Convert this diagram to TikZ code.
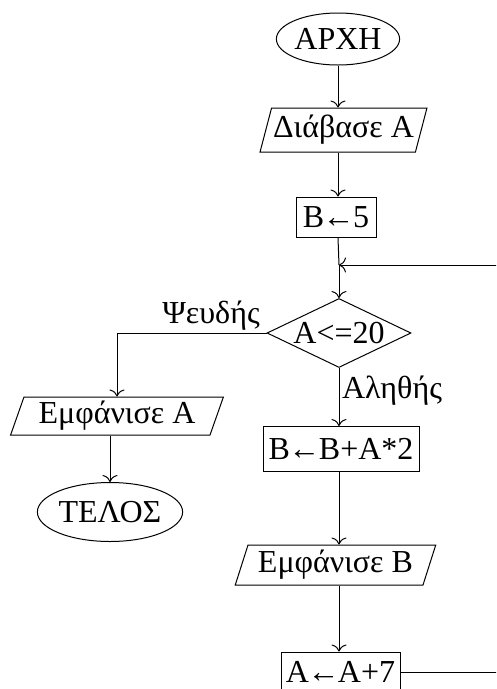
\documentclass[tikz,border=0pt]{standalone}
\usepackage{fontspec}
\setmainfont{Liberation Serif}
\usetikzlibrary{shapes.geometric}
\usetikzlibrary{arrows.meta}

\newcommand{\lar}{\kern-1.5pt←\kern-1.5pt}

\tikzset{
  term/.style={ellipse, draw, line width=1pt, inner sep=0pt},
  io/.style={trapezium, trapezium left angle=69, trapezium right angle=111,
    trapezium stretches=true, draw, line width=1pt, inner sep=0pt},
  proc/.style={rectangle, draw, line width=1pt, inner sep=0pt},
  test/.style={diamond, aspect=2, draw, line width=1pt, inner sep=0pt},
  flow/.style={line width=1pt, -{To[length=7pt,width=15pt]}},
  link/.style={line width=1pt}
}

\begin{document}
\begin{tikzpicture}[x=1pt, y=-1pt, font=\fontsize{32}{36}\selectfont]
    \useasboundingbox (0,0) rectangle (496,689);
    \clip (0,0) rectangle (496,689);

    % main column
    \node [term, minimum width=123pt, minimum height=52pt] (start) at (338,39) {ΑΡΧΗ};
    \node [io, minimum width=167pt, minimum height=44pt] (read) at (343.5,130) {Διάβασε Α};
    \node [proc, minimum width=80pt, minimum height=40pt] (init) at (336,217) {Β\lar5};
    \node [test, minimum width=144pt, minimum height=69pt] (cond) at (339,333) {Α<=20};
    \node [proc, minimum width=156pt, minimum height=45pt] (body) at (341,449) {Β\lar Β+Α*2};
    \node [io, minimum width=201pt, minimum height=40pt] (showB) at (335.5,565) {Εμφάνισε Β};
    \node [proc, minimum width=119pt, minimum height=40pt] (incr) at (340.5,672) {Α\lar Α+7};

    % left branch
    \node [io, minimum width=213pt, minimum height=38pt] (showA) at (117,416) {Εμφάνισε Α};
    \node [term, minimum width=128pt, minimum height=59pt] (stop) at (110,512) {ΤΕΛΟΣ};

    % labels
    \node (no) at (211,316) {Ψευδής};
    \node (yes) at (392,391) {Αληθής};

    % loop points
    \coordinate (join) at (339,265);
    \coordinate (back) at (510,265);

    \draw[flow] (start) -- (start |- read.north);
    \draw[flow] (read.south -| start) -- (start |- init.north);
    \draw[link] (init.south -| start) -- (join);
    \draw[flow] (join) -- (cond);
    \draw[flow] (cond) -- (cond |- body.north);
    \draw[flow] (body.south -| cond) -- (cond |- showB.north);
    \draw[flow] (showB.south -| cond) -- (cond |- incr.north);
    \draw[link] (incr) -- (incr -| back) -- (back);
    \draw[flow] (back) -- (join);

    \draw[flow] (cond.west) -| (showA.north);
    \draw[flow] (showA.south -| stop) -- (stop);
\end{tikzpicture}
\end{document}
